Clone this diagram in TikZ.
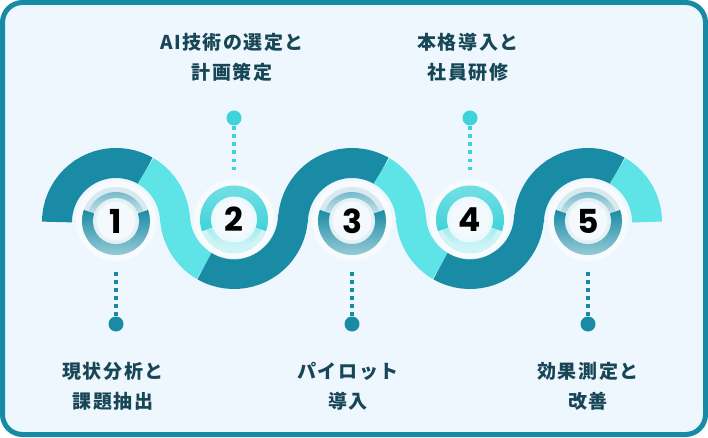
\documentclass[tikz,border=0pt]{standalone}
\usepackage{fontspec}
\newfontfamily\jpfont{Noto Sans CJK JP}[LetterSpace=8]
\newfontfamily\digfont{Poppins}
\definecolor{bgc}{HTML}{EFF7FE}
\definecolor{borderc}{HTML}{178AA6}
\definecolor{darkc}{HTML}{1A8BA5}
\definecolor{lightc}{HTML}{5EE3E7}
\definecolor{cyanc}{HTML}{3ED3DA}
\definecolor{textc}{HTML}{174656}
\definecolor{centerc}{HTML}{F3F9FD}
\tikzset{
  band/.style={line width=30pt, line cap=butt},
  leader/.style={line width=3.5pt, dash pattern=on 3.5pt off 4.5pt},
  enddot/.style={circle, inner sep=0pt, minimum size=15pt},
  label/.style={font=\jpfont\bfseries\fontsize{19}{29.5}\selectfont, text=textc, align=center, inner sep=0pt},
  digit/.style={font=\digfont\bfseries\fontsize{33}{33}\selectfont, text=black, inner sep=0pt}
}
\newcommand\ringodd[4]{%
  \begin{scope}[shift={(#1,#2)}]
    \fill[white,opacity=.55] (0,0) circle[radius=40];
    \fill[darkc!18!white] (0,0) circle[radius=34];
    \shade[top color=darkc!65!white, bottom color=darkc!25!white] (19:29) arc[start angle=19,end angle=161,radius=29] -- (161:22) arc[start angle=161,end angle=19,radius=22] -- cycle;
    \shade[top color=darkc, bottom color=darkc!40!white] (161:34) arc[start angle=161,end angle=379,radius=34] -- (379:21) arc[start angle=379,end angle=161,radius=21] -- cycle;
    \fill[darkc!12!white] (0,0) circle[radius=23];
    \fill[centerc] (0,0) circle[radius=19.5];
  \end{scope}
  \node[digit] (#3) at (#1,#2) {#4};
}
\newcommand\ringeven[4]{%
  \begin{scope}[shift={(#1,#2)}]
    \fill[white,opacity=.55] (0,0) circle[radius=40];
    \fill[cyanc!25!white] (0,0) circle[radius=34];
    \shade[top color=cyanc!45!white, bottom color=cyanc!20!white] (200:29) arc[start angle=200,end angle=340,radius=29] -- (340:22) arc[start angle=340,end angle=200,radius=22] -- cycle;
    \shade[top color=cyanc!70!white, bottom color=cyanc] (-20:34) arc[start angle=-20,end angle=200,radius=34] -- (200:21) arc[start angle=200,end angle=-20,radius=21] -- cycle;
    \fill[cyanc!12!white] (0,0) circle[radius=23];
    \fill[centerc] (0,0) circle[radius=19.5];
  \end{scope}
  \node[digit] (#3) at (#1,#2) {#4};
}
\begin{document}
\begin{tikzpicture}[x=1pt,y=1pt]
\useasboundingbox (0,0) rectangle (708,437);
\fill[white] (0,0) rectangle (708,437);
\draw[line width=5pt, draw=borderc, fill=bgc, rounded corners=20pt] (2.5,2.5) rectangle (705.5,434.5);
% wave
\draw[band, darkc]  (116,215) ++(180:59) arc[start angle=180,end angle=60,radius=59];
\draw[band, lightc] (116,215) ++(60:59)  arc[start angle=60,end angle=0,radius=59];
\draw[band, lightc] (234,222) ++(180:59) arc[start angle=180,end angle=240,radius=59];
\draw[band, darkc]  (234,222) ++(240:59) arc[start angle=240,end angle=360,radius=59];
\draw[band, darkc]  (352,215) ++(180:59) arc[start angle=180,end angle=60,radius=59];
\draw[band, lightc] (352,215) ++(60:59)  arc[start angle=60,end angle=0,radius=59];
\draw[band, lightc] (470,222) ++(180:59) arc[start angle=180,end angle=240,radius=59];
\draw[band, darkc]  (470,222) ++(240:59) arc[start angle=240,end angle=360,radius=59];
\draw[band, darkc]  (588,215) ++(180:59) arc[start angle=180,end angle=60,radius=59];
\draw[band, lightc] (588,215) ++(60:59)  arc[start angle=60,end angle=0,radius=59];
% rings
\ringodd{116}{216}{s1}{1}
\ringeven{234}{217.5}{s2}{2}
\ringodd{352}{216}{s3}{3}
\ringeven{470}{217.5}{s4}{4}
\ringodd{588}{216}{s5}{5}
% leaders and dots
\coordinate (l1) at (116,165);
\coordinate (l2) at (234,267);
\coordinate (l3) at (352,165);
\coordinate (l4) at (470,267);
\coordinate (l5) at (588,165);
\coordinate (p1) at (116,113);
\coordinate (p2) at (234,319);
\coordinate (p3) at (352,113);
\coordinate (p4) at (470,319);
\coordinate (p5) at (588,113);
\draw[leader, darkc] (l1) -- (p1);
\draw[leader, cyanc] (l2) -- (p2);
\draw[leader, darkc] (l3) -- (p3);
\draw[leader, cyanc] (l4) -- (p4);
\draw[leader, darkc] (l5) -- (p5);
\node[enddot, fill=darkc] (d1) at (p1) {};
\node[enddot, fill=cyanc] (d2) at (p2) {};
\node[enddot, fill=darkc] (d3) at (p3) {};
\node[enddot, fill=cyanc] (d4) at (p4) {};
\node[enddot, fill=darkc] (d5) at (p5) {};
% labels
\node[label] (t1) at (113,50.5) {現状分析と\\課題抽出};
\node[label] (t2) at (232,379.5) {AI技術の選定と\\計画策定};
\node[label] (t3) at (348,50.5) {パイロット\\導入};
\node[label] (t4) at (468,379.5) {本格導入と\\社員研修};
\node[label] (t5) at (588,50.5) {効果測定と\\改善};
\end{tikzpicture}
\end{document}
